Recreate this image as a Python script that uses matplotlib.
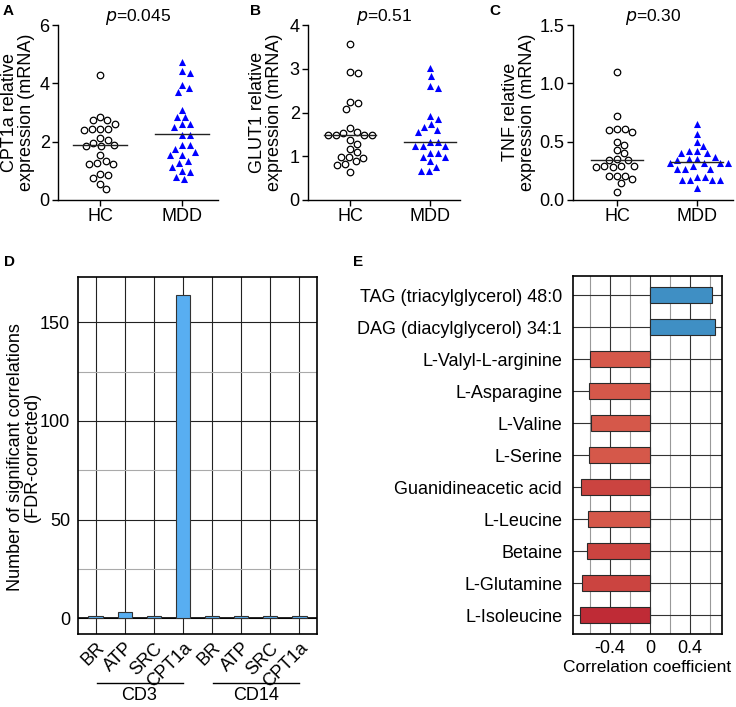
import matplotlib
matplotlib.use("Agg")
import matplotlib.pyplot as plt
import matplotlib.transforms as mtransforms
import numpy as np

plt.rcParams['font.family'] = ['Liberation Sans', 'DejaVu Sans']
plt.rcParams['font.size'] = 13

# panel A-C data (relative mRNA expression)
groups = ["HC", "MDD"]
a_hc = [4.28, 2.61, 2.73, 2.73, 2.84, 2.45, 2.40, 2.45, 2.45, 2.13, 1.97, 1.85, 1.85,
        1.88, 2.06, 1.53, 1.28, 1.24, 1.24, 1.35, 0.87, 0.76, 0.89, 0.37, 0.55]
a_mdd = [4.74, 4.35, 4.42, 3.84, 3.71, 3.95, 3.09, 2.84, 2.84, 2.59, 2.52, 2.61, 2.22, 2.24,
         1.88, 1.88, 1.66, 1.53, 1.53, 1.74, 1.28, 1.12, 1.35, 0.98, 0.80, 0.96, 0.71]
a_lines = [1.88, 2.25]
b_hc = [3.57, 2.90, 2.93, 2.21, 2.08, 2.24, 1.64, 1.54, 1.56, 1.48, 1.48, 1.48, 1.48, 1.37,
        1.28, 1.16, 1.09, 0.98, 0.97, 0.98, 0.89, 0.82, 0.79, 0.64]
b_mdd = [3.02, 2.84, 2.60, 2.56, 1.86, 1.91, 1.68, 1.56, 1.60, 1.73, 1.33, 1.24, 1.24, 1.24,
         1.33, 1.08, 0.99, 0.99, 1.08, 0.89, 0.76, 0.67, 0.67]
b_lines = [1.49, 1.33]
c_hc = [1.10, 0.72, 0.61, 0.60, 0.58, 0.61, 0.50, 0.43, 0.47, 0.40, 0.35, 0.34, 0.34, 0.29,
        0.29, 0.28, 0.28, 0.29, 0.21, 0.18, 0.15, 0.21, 0.21, 0.07]
c_mdd = [0.65, 0.57, 0.50, 0.42, 0.40, 0.40, 0.46, 0.42, 0.34, 0.35, 0.35, 0.37, 0.32, 0.32,
         0.32, 0.32, 0.27, 0.27, 0.27, 0.29, 0.20, 0.17, 0.17, 0.17, 0.20, 0.17, 0.10]
c_lines = [0.34, 0.33]

# panel D
d_labels = ["BR", "ATP", "SRC", "CPT1a", "BR", "ATP", "SRC", "CPT1a"]
d_values = [1, 3, 1, 164, 1, 1, 1, 1]
d_groups = ["CD3", "CD14"]

# panel E
e_labels = ["TAG (triacylglycerol) 48:0", "DAG (diacylglycerol) 34:1", "L-Valyl-L-arginine",
            "L-Asparagine", "L-Valine", "L-Serine", "Guanidineacetic acid", "L-Leucine",
            "Betaine", "L-Glutamine", "L-Isoleucine"]
e_values = [0.62, 0.65, -0.60, -0.61, -0.59, -0.61, -0.69, -0.62, -0.63, -0.68, -0.70]

W, H = 736, 707
fig = plt.figure(figsize=(W / 100, H / 100), dpi=100)


def px_axes(l, t, r, b):
    return fig.add_axes([l / W, 1 - b / H, (r - l) / W, (b - t) / H])


def swarm(ax, xc, vals, diam=8.0):
    # simple beeswarm in pixel space
    bb = ax.get_position()
    x0, x1 = ax.get_xlim()
    y0, y1 = ax.get_ylim()
    xs = bb.width * W / (x1 - x0)
    ys = bb.height * H / (y1 - y0)
    order = np.argsort(vals)[::-1]
    placed = []
    out = np.zeros(len(vals))
    for i in order:
        py = vals[i] * ys
        cands = [0.0]
        for (qx, qy) in placed:
            dy = abs(qy - py)
            if dy < diam:
                dx = np.sqrt(diam ** 2 - dy ** 2)
                cands += [qx + dx, qx - dx]
        cands.sort(key=lambda c: (abs(c), -c))
        for c in cands:
            if all((c - qx) ** 2 + (py - qy) ** 2 >= diam ** 2 - 1e-6 for qx, qy in placed):
                placed.append((c, py))
                out[i] = c
                break
    return xc + out / xs


def dot_panel(l, r, xlim, hc, mdd, lines, ymax, ticks, ticklabels, ylabel, ylx, ptext,
              letter, lx):
    ax = px_axes(l, 25, r, 200)
    ax.set_xlim(*xlim)
    ax.set_ylim(0, ymax)
    for s in ["top", "right"]:
        ax.spines[s].set_visible(False)
    for s in ["left", "bottom"]:
        ax.spines[s].set_linewidth(1.0)
    ax.set_yticks(ticks)
    ax.set_yticklabels(ticklabels)
    ax.set_xticks([0, 1])
    ax.set_xticklabels(groups)
    ax.tick_params(length=4, width=1.0, labelsize=13, pad=2)
    hc = np.array(hc)
    mdd = np.array(mdd)
    ax.scatter(swarm(ax, 0, hc), hc, s=22, facecolors="white", edgecolors="black",
               linewidths=0.9, zorder=3, clip_on=False)
    ax.scatter(swarm(ax, 1, mdd), mdd, s=26, marker="^", color="#0000ff",
               linewidths=0, zorder=3, clip_on=False)
    for i, v in enumerate(lines):
        ax.plot([i - 0.33, i + 0.33], [v, v], color="#222222", lw=1.0, zorder=4)
    fig.text(ylx / W, 1 - 112 / H, ylabel, rotation=90, ha="center", va="center",
             multialignment="center", fontsize=13, linespacing=1.05)
    ax.text(0.5, 1.045, ptext, transform=ax.transAxes, ha="center", va="center", fontsize=12.5)
    fig.text(lx / W, 1 - 11 / H, letter, fontsize=11, fontweight="bold", ha="left", va="center")
    return ax


dot_panel(58, 218, (-0.512, 1.439), a_hc, a_mdd, a_lines, 6, [0, 2, 4, 6],
          ["0", "2", "4", "6"], "CPT1a relative\nexpression (mRNA)", 18, "$p$=0.045", "A", 3)
dot_panel(308, 460, (-0.525, 1.375), b_hc, b_mdd, b_lines, 4, [0, 1, 2, 3, 4],
          ["0", "1", "2", "3", "4"], "GLUT1 relative\nexpression (mRNA)", 266, "$p$=0.51",
          "B", 250)
dot_panel(573, 733, (-0.55, 1.45), c_hc, c_mdd, c_lines, 1.5, [0, 0.5, 1.0, 1.5],
          ["0.0", "0.5", "1.0", "1.5"], "TNF relative\nexpression (mRNA)", 519, "$p$=0.30",
          "C", 489)

# ---- panel D ----
axd = px_axes(78.3, 277, 316.7, 634)
xd = np.arange(len(d_values))
axd.set_axisbelow(True)
axd.bar(xd, d_values, width=0.5, color="#58aef1", edgecolor="#333333", linewidth=0.8, zorder=3)
axd.set_xlim(-0.6, 7.6)
axd.set_ylim(-8, 173)
axd.set_yticks([0, 50, 100, 150])
axd.set_yticks([25, 75, 125], minor=True)
axd.set_xticks(xd)
axd.set_xticklabels(d_labels, rotation=45, ha="right", rotation_mode="anchor", fontsize=13)
axd.tick_params(axis="both", which="both", length=0, labelsize=13)
axd.tick_params(axis="y", pad=6)
axd.tick_params(axis="x", pad=4)
axd.grid(True, which="major", color="#222222", lw=0.8)
axd.grid(True, which="minor", axis="y", color="#aaaaaa", lw=0.8)
axd.axhline(0, color="black", lw=1.2, zorder=2)
for s in axd.spines.values():
    s.set_linewidth(1.2)
fig.text(24 / W, 1 - 457 / H, "Number of significant correlations\n(FDR-corrected)",
         rotation=90, ha="center", va="center", multialignment="center", fontsize=13,
         linespacing=1.05)
trans = mtransforms.blended_transform_factory(axd.transData, axd.transAxes)
for gi, g in enumerate(d_groups):
    start, end = gi * 4, gi * 4 + 3
    axd.plot([start + 0.05, end], [-0.137, -0.137], color="black", lw=1.0,
             transform=trans, clip_on=False)
    axd.text((start + end) / 2, -0.172, g, transform=trans, ha="center", va="center",
             fontsize=13)
fig.text(4 / W, 1 - 262 / H, "D", fontsize=11, fontweight="bold", ha="left", va="center")

# ---- panel E ----
axe = px_axes(573.3, 276, 721.7, 634.3)
ye = np.arange(len(e_values))
# colour by strength of the negative correlation
red_levels = ["#d5584a", "#cb4440", "#bf2b36"]
cols = ["#3f8fc4" if v > 0 else red_levels[np.digitize(-v, [0.625, 0.695])] for v in e_values]
axe.set_axisbelow(True)
axe.barh(ye, e_values, height=0.5, color=cols, edgecolor="#2a2a2a", linewidth=0.8, zorder=3)
axe.set_ylim(10.6, -0.6)
axe.set_xlim(-0.767, 0.717)
axe.set_yticks(ye)
axe.set_yticklabels(e_labels, fontsize=13)
axe.set_xticks([-0.4, 0, 0.4])
axe.set_xticklabels(["-0.4", "0", "0.4"])
axe.set_xticks([-0.6, -0.2, 0.2, 0.6], minor=True)
axe.tick_params(axis="both", which="both", length=0, labelsize=13)
axe.tick_params(axis="y", pad=8)
axe.tick_params(axis="x", pad=4)
axe.grid(True, which="major", color="#333333", lw=0.8)
axe.grid(True, which="minor", axis="x", color="#999999", lw=0.8)
for s in axe.spines.values():
    s.set_linewidth(1.2)
fig.text(647 / W, 1 - 667 / H, "Correlation coefficient", fontsize=12.5, ha="center",
         va="center")
fig.text(353 / W, 1 - 262 / H, "E", fontsize=11, fontweight="bold", ha="left", va="center")

fig.savefig("out.png", dpi=100)
